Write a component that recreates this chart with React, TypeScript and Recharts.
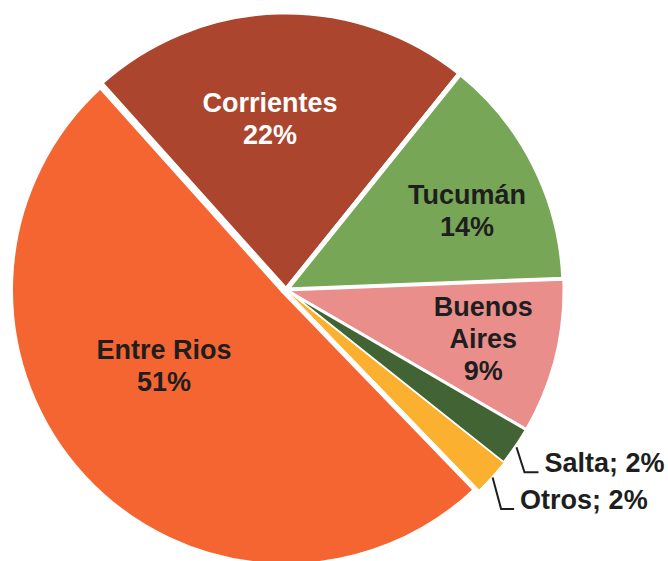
import React from "react";
import { PieChart, Pie, Cell } from "recharts";

// ---- data ----
const CATEGORIES = ["Entre Rios", "Corrientes", "Tucumán", "Buenos Aires", "Salta", "Otros"];
const SHARES = [50.6, 22.4, 13.6, 9.0, 2.3, 2.1];
const NAME_LINES = [["Entre Rios"], ["Corrientes"], ["Tucumán"], ["Buenos", "Aires"], ["Salta"], ["Otros"]];

// ---- styles ----
const COLORS = ["#F46531", "#AB452E", "#78A657", "#EA8E8C", "#426333", "#FBB030"];
const STROKE_WIDTHS = [10, 5, 5, 3, 3, 1];
const TEXT_COLORS = ["#1E1E1E", "#FFFFFF", "#1E1E1E", "#1E1E1E", "#1E1E1E", "#1E1E1E"];
const FONT = "'Liberation Sans', Arial, sans-serif";

// ---- label layout (polar: fraction of radius, angle in degrees) ----
const INSIDE_LABELS: Record<string, { rf: number; angle: number }> = {
  "Entre Rios": { rf: 0.515, angle: 211.6 },
  Corrientes: { rf: 0.62, angle: 95.3 },
  "Tucumán": { rf: 0.712, angle: 23.8 },
  "Buenos Aires": { rf: 0.73, angle: -13.7 },
};
const LEADERS: Record<string, { gap: number; dx: number; dy: number; run: number; textGap: number }> = {
  Salta: { gap: 1, dx: 8, dy: 25, run: 14, textGap: 6 },
  Otros: { gap: 1, dx: 8.5, dy: 31.5, run: 13, textGap: 6 },
};

const data = CATEGORIES.map((name, i) => ({ name, value: SHARES[i] }));

const RAD = Math.PI / 180;

const renderLabel = (props: any) => {
  const { cx, cy, midAngle, outerRadius, percent, index, name } = props;
  const pct = `${Math.round(percent * 100)}%`;
  const fill = TEXT_COLORS[index];
  const inside = INSIDE_LABELS[name];
  if (inside) {
    const a = inside.angle * RAD;
    const r = inside.rf * outerRadius;
    const x = cx + r * Math.cos(a);
    const y = cy - r * Math.sin(a);
    const lines = [...NAME_LINES[index], pct];
    const L = 32;
    const b1 = y + 10 - ((lines.length - 1) * L) / 2;
    return (
      <text
        key={`lbl-${index}`}
        x={x}
        y={b1}
        textAnchor="middle"
        fill={fill}
        fontSize={27}
        fontWeight={700}
        fontFamily={FONT}
      >
        {lines.map((t, i) => (
          <tspan key={i} x={x} y={b1 + i * L}>
            {t}
          </tspan>
        ))}
      </text>
    );
  }
  const lead = LEADERS[name];
  if (!lead) return null;
  const r0 = outerRadius + lead.gap;
  const sx = cx + r0 * Math.cos(midAngle * RAD);
  const sy = cy - r0 * Math.sin(midAngle * RAD);
  const ex = sx + lead.dx;
  const ey = sy + lead.dy;
  const hx = ex + lead.run;
  return (
    <g key={`lbl-${index}`}>
      <polyline
        points={`${sx},${sy} ${ex},${ey} ${hx},${ey}`}
        fill="none"
        stroke="#1E1E1E"
        strokeWidth={2}
      />
      <text
        x={hx + lead.textGap}
        y={ey}
        textAnchor="start"
        fill={fill}
        fontSize={27}
        fontWeight={700}
        fontFamily={FONT}
      >
        {`${NAME_LINES[index].join(" ")}; ${pct}`}
      </text>
    </g>
  );
};

export default function App() {
  return (
    <div style={{ position: "absolute", left: 0, top: 0, width: 668, height: 561, background: "#fff" }}>
      <PieChart width={668} height={561} margin={{ top: 0, right: 0, bottom: 0, left: 0 }}>
        <Pie
          data={data}
          dataKey="value"
          nameKey="name"
          cx={286}
          cy={290}
          outerRadius={278}
          startAngle={314}
          endAngle={-46}
          isAnimationActive={false}
          label={renderLabel}
          labelLine={false}
        >
          {data.map((d, i) => (
            <Cell key={d.name} fill={COLORS[i]} stroke="#FFFFFF" strokeWidth={STROKE_WIDTHS[i]} />
          ))}
        </Pie>
      </PieChart>
    </div>
  );
}
